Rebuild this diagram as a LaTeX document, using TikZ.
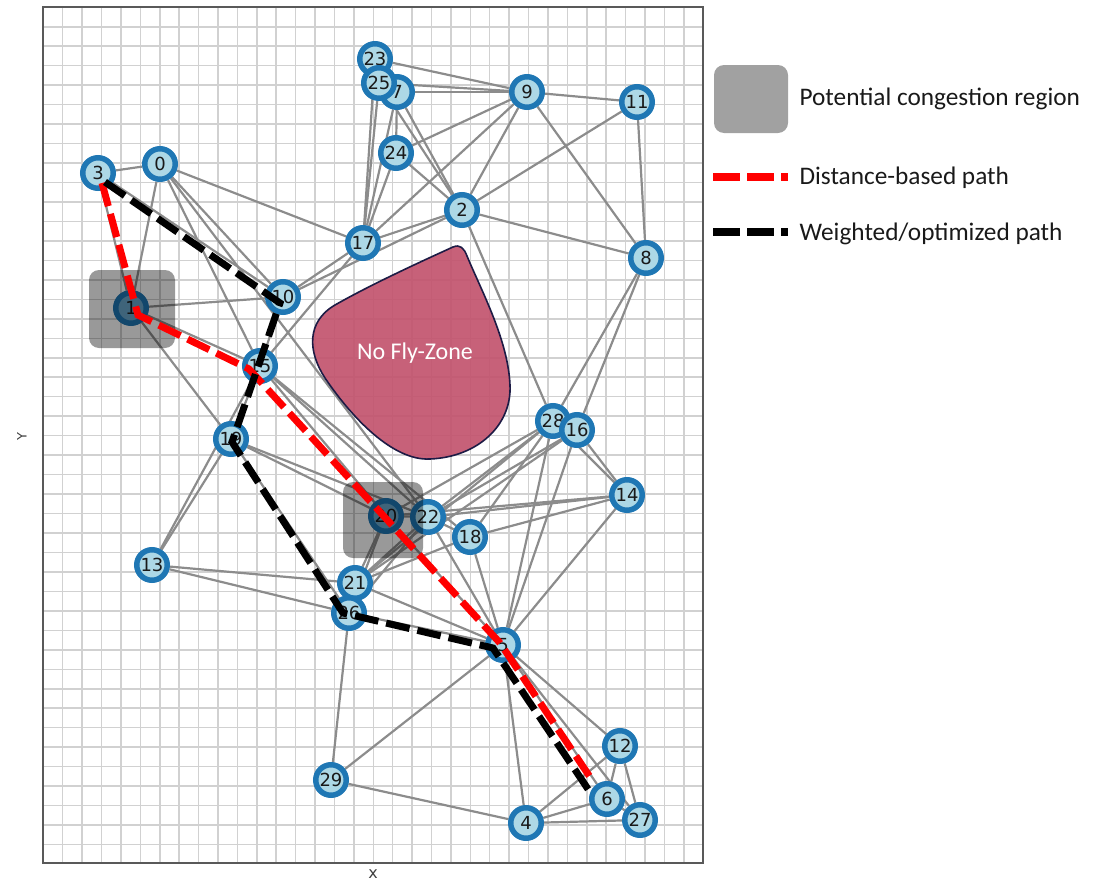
\documentclass[tikz,border=0pt]{standalone}
\usepackage{fontspec}
\setmainfont{DejaVu Sans}
\newfontfamily\calib{Carlito}
\usetikzlibrary{calc}
\definecolor{ringblue}{HTML}{1F77B4}
\definecolor{nodefill}{HTML}{ADD8E6}
\definecolor{hotfill}{HTML}{6AA7CC}
\definecolor{nfz}{HTML}{C2546E}
\definecolor{nfzline}{HTML}{1D1B45}
\pgfdeclarelayer{grid}
\pgfdeclarelayer{links}
\pgfsetlayers{grid,links,main}
\begin{document}
\begin{tikzpicture}[x=1pt,y=-1pt,
  gridline/.style={draw=black!18, line width=1.5pt},
  edge/.style={draw=black!45, line width=2.2pt},
  vtx/.style={circle, draw=ringblue, fill=nodefill, line width=5.5pt, minimum size=30.5pt,
              inner sep=0pt, font=\fontsize{18}{18}\selectfont, text=black!90},
  hot/.style={vtx, fill=hotfill},
  congest/.style={fill=black, fill opacity=0.4, rounded corners=10pt},
  pathline/.style={line width=7pt, dash pattern=on 24pt off 8pt},
  redpath/.style={pathline, draw=red},
  blackpath/.style={pathline, draw=black},
  legendtext/.style={anchor=west, font=\calib\fontsize{25.3}{25.3}\selectfont, text=black!90},
]
\useasboundingbox (0,0) rectangle (1112,881);

% background grid and frame
\begin{pgfonlayer}{grid}
  \foreach \i in {1,...,33}
    \draw[gridline] ({43.3+\i*19.41},7.3) -- ({43.3+\i*19.41},862.7);
  \foreach \j in {1,...,43}
    \draw[gridline] (43.3,{7.3+\j*19.47}) -- (703,{7.3+\j*19.47});
  \draw[draw=black!65, line width=1.8pt] (43.3,7.3) rectangle (703,862.7);
\end{pgfonlayer}

% axis labels
\node[rotate=90, font=\fontsize{13}{13}\selectfont, text=black!75] (ylab) at (22,437) {Y};
\node[font=\fontsize{16}{16}\selectfont, text=black!75] (xlab) at (373,874) {x};

% waypoints
\node[vtx] (n0)  at (160,164) {0};
\node[hot] (n1)  at (131,308) {1};
\node[vtx] (n2)  at (462,210) {2};
\node[vtx] (n3)  at (98,173)  {3};
\node[vtx] (n4)  at (526,823) {4};
\node[vtx] (n5)  at (503,645) {5};
\node[vtx] (n6)  at (607,799) {6};
\node[vtx] (n8)  at (646,258) {8};
\node[vtx] (n9)  at (527,92)  {9};
\node[vtx] (n10) at (283,297) {10};
\node[vtx] (n11) at (637,102) {11};
\node[vtx] (n12) at (620,746) {12};
\node[vtx] (n13) at (152,565) {13};
\node[vtx] (n14) at (627,495) {14};
\node[vtx] (n15) at (260,366) {15};
\node[vtx] (n17) at (363,243) {17};
\node[vtx] (n18) at (470,537) {18};
\node[vtx] (n19) at (231,439) {19};
\node[hot] (n20) at (386,516) {20};
\node[vtx] (n22) at (428,517) {22};
\node[vtx] (n21) at (355,583) {21};
\node[vtx] (n26) at (349,613) {26};
\node[vtx] (n23) at (375,59)  {23};
\node[vtx] (n7)  at (397,92)  {7};
\node[vtx] (n25) at (379,83)  {25};
\node[vtx] (n24) at (396,153) {24};
\node[vtx] (n28) at (553,421) {28};
\node[vtx] (n16) at (577,430) {16};
\node[vtx] (n27) at (640,820) {27};
\node[vtx] (n29) at (331,780) {29};

% links between waypoints
\begin{pgfonlayer}{links}
\foreach \a/\b in {3/0,3/1,3/10,0/1,0/15,0/10,0/17,0/22,1/10,1/15,1/19,
  10/17,10/2,10/15,17/9,15/19,15/17,15/20,15/22,15/18,15/13,
  19/13,19/20,19/22,19/26,13/21,13/26,
  17/23,17/25,17/7,17/24,17/2,23/25,23/7,23/9,25/7,25/9,25/2,
  7/9,7/2,7/24,24/9,24/2,9/2,9/11,9/8,11/2,11/8,2/8,2/28,
  8/16,8/28,28/16,28/14,16/14,28/20,28/22,28/21,28/18,28/5,
  16/22,16/21,16/5,14/22,14/20,14/18,14/5,
  20/22,20/21,20/26,20/5,22/21,22/26,22/18,22/5,18/21,18/5,
  21/5,21/26,26/5,26/29,5/29,5/4,5/6,5/12,5/27,
  29/4,4/6,4/12,4/27,6/12,6/27,12/27}
  \draw[edge] (n\a) -- (n\b);
\end{pgfonlayer}

% no-fly zone
\draw[fill=nfz, fill opacity=0.92, draw=nfzline, line width=1.6pt]
  (453,247) .. controls (460,244) and (464,248) .. (467,256)
  .. controls (482,292) and (508,340) .. (510,385)
  .. controls (512,425) and (478,457) .. (430,459)
  .. controls (393,461) and (352,418) .. (325,378)
  .. controls (308,352) and (306,322) .. (335,305)
  .. controls (370,285) and (420,262) .. (453,247) -- cycle;
\node[text=white, font=\calib\fontsize{24}{24}\selectfont] (nfzlabel) at (415,353) {No Fly-Zone};

% congestion regions
\fill[congest] (89,270) rectangle (175,348);
\fill[congest] (343,482) rectangle (423,558);

% routes
\coordinate (rs) at ([shift={(4,10)}]n3.center);
\coordinate (r1) at ([shift={(7,7)}]n1.center);
\coordinate (r15) at ([shift={(-11,3)}]n15.center);
\coordinate (r5) at ([shift={(-3,-2)}]n5.center);
\coordinate (re) at (590,777);
\draw[redpath] (rs) -- (r1) -- (r15) -- (r5) -- (re);

\coordinate (bs) at ([shift={(7,9)}]n3.center);
\coordinate (b10) at ([shift={(-3,6)}]n10.center);
\coordinate (b19) at ([shift={(1,3)}]n19.center);
\coordinate (b26) at ([shift={(-6,0)}]n26.center);
\coordinate (b5) at ([shift={(-10,3)}]n5.center);
\coordinate (be) at (592,795);
\draw[blackpath] (bs) -- (b10) -- (b19) -- (b26) -- (b5) -- (be);

% legend
\node[fill=black!37, rounded corners=10pt, minimum width=74pt, minimum height=68pt, inner sep=0pt] (lgbox) at (751,99) {};
\node[legendtext] (lgt1) at (796,99) {Potential congestion region};
\coordinate (lr0) at (713,177);
\coordinate (lr1) at (788,177);
\draw[redpath, line width=8pt, dash pattern=on 27pt off 7pt] (lr0) -- (lr1);
\node[legendtext] (lgt2) at (796,178) {Distance-based path};
\coordinate (lb0) at (713,232);
\coordinate (lb1) at (788,232);
\draw[blackpath, line width=8pt, dash pattern=on 27pt off 7pt] (lb0) -- (lb1);
\node[legendtext] (lgt3) at (796,234) {Weighted/optimized path};
\end{tikzpicture}
\end{document}
